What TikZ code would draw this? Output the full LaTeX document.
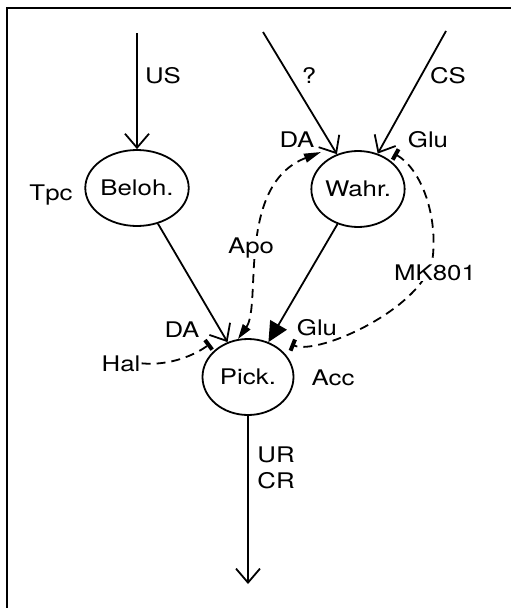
\documentclass[tikz,border=0pt]{standalone}
\usepackage{fontspec}
\setmainfont{TeX Gyre Heros}
\usetikzlibrary{arrows.meta,shapes.geometric}
% widened lettering
\newcommand{\sw}[1]{\scalebox{1.2}[1]{#1}}
\begin{document}
\begin{tikzpicture}[x=1pt,y=-1pt,
  every node/.style={font=\fontsize{21.5}{25}\selectfont},
  area/.style={draw, ellipse, line width=1.8pt, minimum width=91pt, minimum height=76pt, inner sep=0pt},
  lbl/.style={anchor=base, inner sep=1pt},
  lblw/.style={anchor=base, inner sep=1pt, fill=white},
  stroke/.style={line width=1.8pt},
  openarrow/.style={stroke, -{Straight Barb[length=14pt,width=24pt]}},
  bigarrow/.style={stroke, -{Triangle[length=20pt,width=19pt]}},
  modline/.style={line width=1.8pt, dash pattern=on 9pt off 6pt},
  blocker/.tip={Rectangle[length=4pt,width=12pt,sep=1pt]},
]
\useasboundingbox (0,0) rectangle (511,608);
% frame
\draw[line width=1.8pt] (7,608) -- (7,8) -- (511,8);

% areas
\node[area] (beloh) at (137,188) {\sw{Beloh.}};
\node[area] (wahr)  at (358,189) {\sw{Wahr.}};
\node[area] (pick)  at (248,377) {\sw{Pick.}};

% free ends
\coordinate (usS) at (137,33);
\coordinate (qS)  at (263,32);
\coordinate (csS) at (446,31);
\coordinate (outE) at (248,584);
\coordinate (apoTop) at (321,152);
\coordinate (apoBot) at (238,339);
\coordinate (mkTop) at (393,153);
\coordinate (mkBot) at (290,344);
\coordinate (halEnd) at (211,343);

% labels
\node[lbl] (lUS)  at (163,83) {\sw{US}};
\node[lbl] (lQ)   at (309,83) {\sw{?}};
\node[lbl] (lCS)  at (448,83) {\sw{CS}};
\node[lbl] (lDA1) at (297,147) {\sw{DA}};
\node[lbl] (lGlu1) at (428,147) {\sw{Glu}};
\node[lbl] (lTpc) at (51,200) {\sw{Tpc}};
\node[lbl] (lDA2) at (182,337) {\sw{DA}};
\node[lbl] (lGlu2) at (317,335) {\sw{Glu}};
\node[lbl] (lHal) at (121,371) {\sw{Hal}};
\node[lbl] (lAcc) at (333,385) {\sw{Acc}};
\node[lbl] (lUR)  at (276,462) {\sw{UR}};
\node[lbl] (lCR)  at (276,488) {\sw{CR}};

% solid pathways
\draw[openarrow] (usS) -- (beloh);
\draw[openarrow] (qS) -- (wahr);
\draw[openarrow] (csS) -- (wahr);
\draw[openarrow] (beloh) -- (pick);
\draw[bigarrow] (wahr) -- (pick);
\draw[openarrow] (pick) -- (outE);

% drug actions (dashed)
\draw[modline, {Triangle[length=15pt,width=9pt]}-{Triangle[length=17pt,width=9pt]}]
  (apoBot) .. controls (262,305) and (236,185) .. (apoTop);
\draw[modline, blocker-blocker]
  (mkTop) .. controls (420,168) and (437,212) .. (433,255)
          .. controls (429,305) and (320,356) .. (mkBot);
\draw[modline, -blocker] (lHal.east) .. controls (170,366) and (195,355) .. (halEnd);

\node[lblw] (lApo) at (251,253) {\sw{Apo}};
\node[lblw] (lMK)  at (435,280) {\sw{MK801}};
\end{tikzpicture}
\end{document}
